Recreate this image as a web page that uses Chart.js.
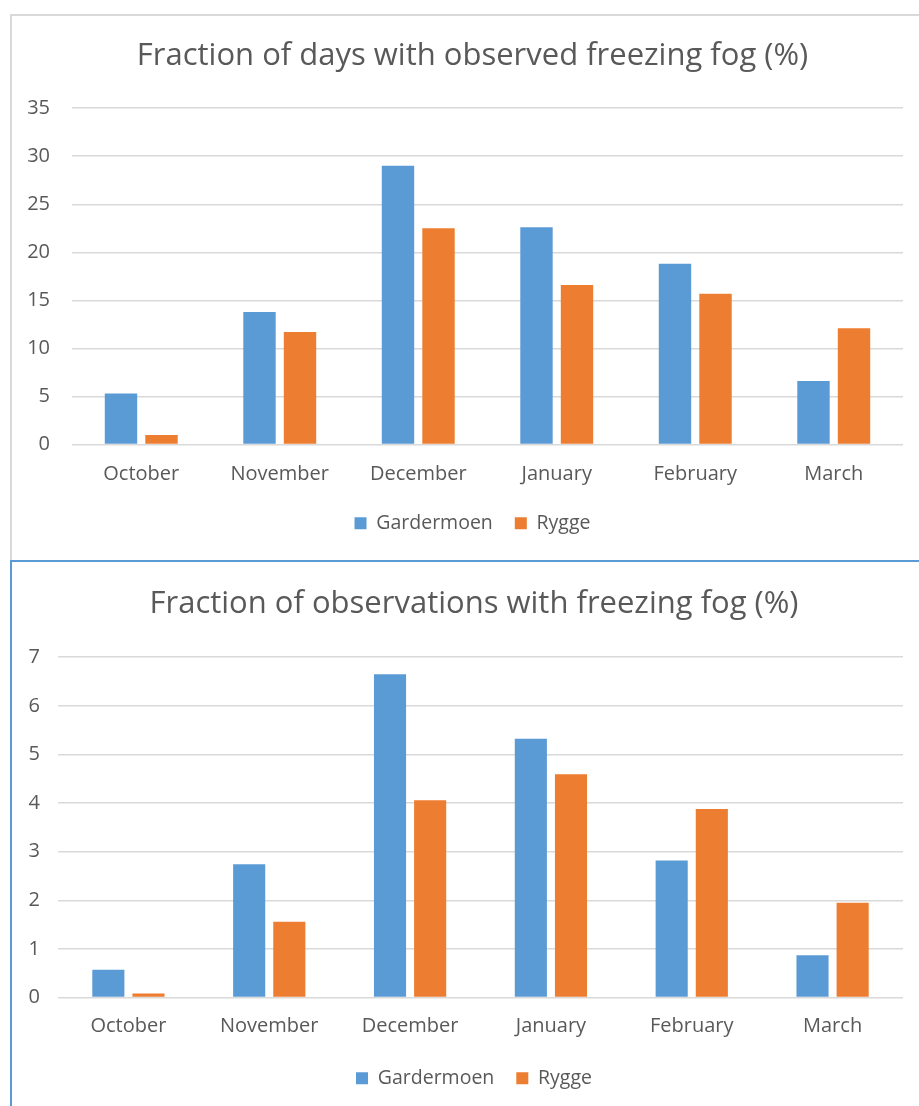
<!DOCTYPE html>
<html>
<head>
<meta charset="utf-8">
<script src="https://cdn.jsdelivr.net/npm/chart.js@4.4.1/dist/chart.umd.min.js"></script>
<style>
  body { margin: 0; background: #fff; }
  #page { position: relative; width: 919px; height: 1106px; overflow: hidden; }
  .frame { position: absolute; box-sizing: border-box; }
  #frameTop { left: 10px; top: 14px; width: 940px; height: 560px; border: 2px solid #d9d9d9; }
  #frameBottom { left: 10px; top: 560px; width: 940px; height: 600px; border: 2px solid #5b9bd5; background: #fff; }
  canvas { position: absolute; left: 0; }
</style>
</head>
<body>
<div id="page">
  <div class="frame" id="frameTop"></div>
  <div class="frame" id="frameBottom"></div>
  <canvas id="daysChart" width="919" height="560" style="top:0"></canvas>
  <canvas id="obsChart" width="919" height="546" style="top:560px"></canvas>
</div>
<script>
const months = ['October', 'November', 'December', 'January', 'February', 'March'];
const seriesNames = ['Gardermoen', 'Rygge'];

// fraction of days with observed freezing fog (%)
const daysGardermoen = [5.3, 13.8, 29.0, 22.6, 18.8, 6.6];
const daysRygge = [1.0, 11.7, 22.5, 16.6, 15.7, 12.1];

// fraction of observations with freezing fog (%)
const obsGardermoen = [0.57, 2.74, 6.65, 5.32, 2.82, 0.87];
const obsRygge = [0.08, 1.56, 4.06, 4.59, 3.88, 1.95];

const blue = '#5b9bd5';
const orange = '#ed7d31';
const textColor = '#595959';
const gridColor = '#d9d9d9';
const font = "'Open Sans', sans-serif";

// y labels sit left of the narrow axis box, so widen the clip area after layout
const unclipYLabels = {
  id: 'unclipYLabels',
  afterLayout(chart) {
    chart.scales.y.left = 0;
  },
};

function makeChart(id, title, gard, rygge, yMax, yStep, opts) {
  return new Chart(document.getElementById(id), {
    type: 'bar',
    plugins: [unclipYLabels],
    data: {
      labels: months,
      datasets: [
        { label: seriesNames[0], data: gard, backgroundColor: blue, borderWidth: 0 },
        { label: seriesNames[1], data: rygge, backgroundColor: orange, borderWidth: 0 },
      ],
    },
    options: {
      responsive: false,
      animation: false,
      categoryPercentage: opts.catPct,
      barPercentage: 0.8,
      layout: { padding: opts.padding },
      plugins: {
        title: {
          display: true,
          text: title,
          color: textColor,
          font: { family: font, size: 31, weight: 'normal' },
          padding: opts.titlePad,
        },
        legend: {
          position: 'bottom',
          labels: {
            color: textColor,
            font: { family: font, size: 19.5 },
            boxWidth: 12,
            boxHeight: 12,
            padding: 22,
          },
        },
        tooltip: { enabled: false },
      },
      scales: {
        x: {
          grid: { display: false, drawTicks: false },
          border: { display: false },
          ticks: { color: textColor, font: { family: font, size: 20 }, padding: opts.xPad },
          afterFit: (scale) => { scale.height = opts.xHeight; },
        },
        y: {
          min: 0,
          max: yMax,
          grid: { color: gridColor, lineWidth: 1.5, drawTicks: false },
          border: { display: false },
          ticks: { stepSize: yStep, color: textColor, font: { family: font, size: 20 }, padding: opts.yPad },
          afterFit: (scale) => { scale.width = opts.yWidth; },
        },
      },
    },
  });
}

makeChart('daysChart', 'Fraction of days with observed freezing fog (%)', daysGardermoen, daysRygge, 35, 5, {
  catPct: 0.585,
  padding: { left: 42, right: 16, top: 0, bottom: 17 },
  titlePad: { top: 38, bottom: 33 },
  xPad: 18,
  xHeight: 47,
  yPad: 22,
  yWidth: 30,
});

makeChart('obsChart', 'Fraction of observations with freezing fog (%)', obsGardermoen, obsRygge, 7, 1, {
  catPct: 0.57,
  padding: { left: 45, right: 16, top: 0, bottom: 8 },
  titlePad: { top: 26, bottom: 34 },
  xPad: 17,
  xHeight: 49,
  yPad: 18,
  yWidth: 13,
});
</script>
</body>
</html>
